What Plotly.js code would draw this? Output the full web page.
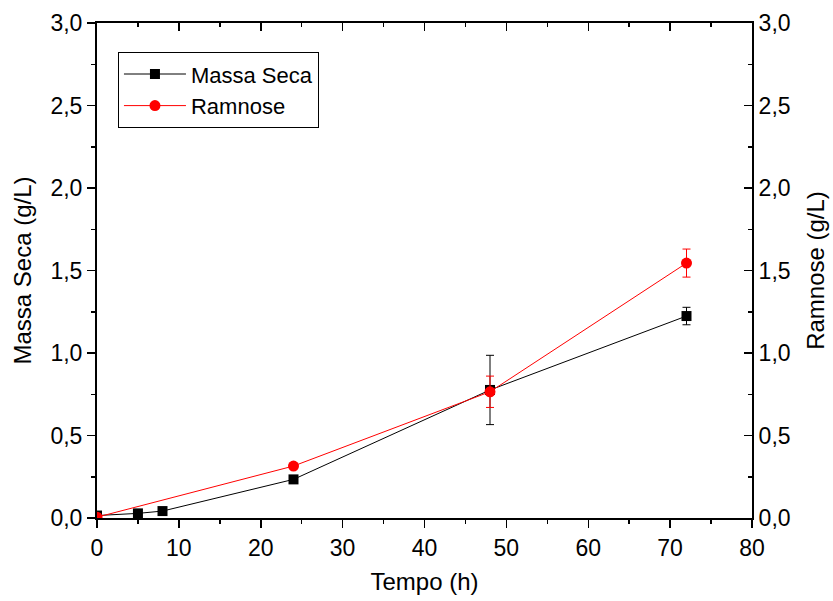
<!DOCTYPE html>
<html>
<head>
<meta charset="utf-8">
<script src="https://cdn.plot.ly/plotly-3.0.1.min.js"></script>
<style>html,body{margin:0;padding:0;background:#fff;}#chart{width:833px;height:601px;}</style>
</head>
<body>
<div id="chart"></div>
<script>
const tempoMassa = [0, 5, 8, 24, 48, 72];
const massaSeca = [0.015, 0.028, 0.042, 0.234, 0.776, 1.224];
const massaSecaErr = [0, 0, 0, 0, 0.21, 0.053];

const tempoRamnose = [0, 24, 48, 72];
const ramnose = [0.005, 0.315, 0.765, 1.545];
const ramnoseErr = [0, 0, 0.095, 0.085];

const FONT = 'Liberation Sans, Arial, sans-serif';
const TICK_SIZE = 23;
const TITLE_SIZE = 24;

const traces = [
  {
    x: tempoMassa, y: massaSeca, name: 'Massa Seca', type: 'scatter', mode: 'lines+markers',
    line: {color: '#000000', width: 1},
    marker: {symbol: 'square', size: 10, color: '#000000'},
    error_y: {type: 'data', array: massaSecaErr, visible: true, color: '#000000', thickness: 1, width: 4},
    xaxis: 'x', yaxis: 'y'
  },
  {
    x: tempoRamnose, y: ramnose, name: 'Ramnose', type: 'scatter', mode: 'lines+markers',
    line: {color: '#ff0000', width: 1},
    marker: {symbol: 'circle', size: 11, color: '#ff0000'},
    error_y: {type: 'data', array: ramnoseErr, visible: true, color: '#ff0000', thickness: 1, width: 4},
    xaxis: 'x2', yaxis: 'y2'
  }
];

const axisCommon = {
  showgrid: false, zeroline: false, showline: true, linecolor: '#000', linewidth: 2,
  tickcolor: '#000', tickwidth: 1.5, ticklen: 8,
  tickfont: {family: FONT, size: TICK_SIZE, color: '#000'}
};

const layout = {
  width: 833, height: 601,
  margin: {l: 97, r: 81, t: 23, b: 83},
  paper_bgcolor: '#fff', plot_bgcolor: '#fff',
  separators: ', ',
  font: {family: FONT, color: '#000'},
  showlegend: true,
  legend: {
    x: 0.032, y: 0.941, xanchor: 'left', yanchor: 'top',
    bgcolor: '#fff', bordercolor: '#000', borderwidth: 1,
    font: {family: FONT, size: 22, color: '#000'},
    itemwidth: 62, tracegroupgap: 0
  },
  xaxis: Object.assign({}, axisCommon, {
    range: [0, 80], dtick: 10, tick0: 0, ticks: 'outside',
    minor: {dtick: 5, ticklen: 4, ticks: 'outside', tickcolor: '#000', tickwidth: 1.5},
    title: {text: 'Tempo (h)', standoff: 14, font: {family: FONT, size: TITLE_SIZE, color: '#000'}}
  }),
  xaxis2: Object.assign({}, axisCommon, {
    range: [0, 80], dtick: 10, tick0: 0, ticks: 'inside', overlaying: 'x', side: 'top', anchor: 'y',
    showticklabels: false,
    minor: {dtick: 5, ticklen: 4, ticks: 'inside', tickcolor: '#000', tickwidth: 1.5}
  }),
  yaxis: Object.assign({}, axisCommon, {
    range: [0, 3], dtick: 0.5, tick0: 0, tickformat: '.1f', ticks: 'outside',
    minor: {dtick: 0.25, ticklen: 4, ticks: 'outside', tickcolor: '#000', tickwidth: 1.5},
    title: {text: 'Massa Seca (g/L)', standoff: 12, font: {family: FONT, size: TITLE_SIZE, color: '#000'}}
  }),
  yaxis2: Object.assign({}, axisCommon, {
    range: [0, 3], dtick: 0.5, tick0: 0, tickformat: '.1f', ticks: 'inside',
    overlaying: 'y', side: 'right', anchor: 'x',
    minor: {dtick: 0.25, ticklen: 4, ticks: 'inside', tickcolor: '#000', tickwidth: 1.5},
    title: {text: 'Ramnose (g/L)', standoff: 18, font: {family: FONT, size: TITLE_SIZE, color: '#000'}}
  })
};

Plotly.newPlot('chart', traces, layout, {displayModeBar: false, staticPlot: true});
</script>
</body>
</html>
